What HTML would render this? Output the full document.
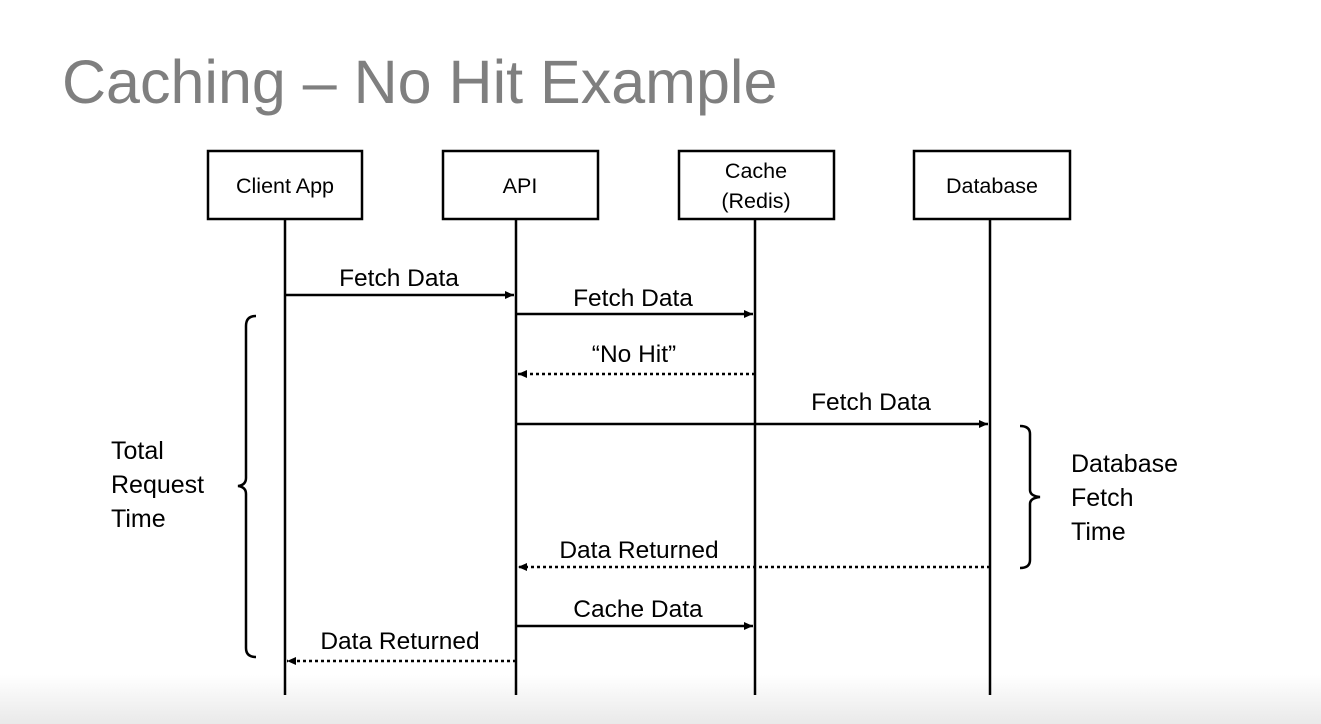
<!DOCTYPE html>
<html><head><style>
html,body{margin:0;padding:0;width:1321px;height:724px;overflow:hidden;background:#fff}
svg{display:block}
text{font-family:"Liberation Sans",sans-serif;fill:#000}
</style></head><body>
<svg width="1321" height="724" viewBox="0 0 1321 724">
<defs>
<linearGradient id="g" x1="0" y1="0" x2="0" y2="1">
<stop offset="0" stop-color="#fff"/><stop offset="1" stop-color="#e9e9e9"/>
</linearGradient>
<marker id="a" markerWidth="10" markerHeight="10" refX="9" refY="5" orient="auto" markerUnits="userSpaceOnUse">
<path d="M0,1 L9,5 L0,9 Z" fill="#000"/>
</marker>
</defs>
<rect x="0" y="675" width="1321" height="49" fill="url(#g)"/>
<text x="62" y="103" font-size="61" style="fill:#7f7f7f">Caching – No Hit Example</text>
<g stroke="#000" stroke-width="2.5" fill="#fff">
<line x1="285" y1="219" x2="285" y2="695"/>
<line x1="516" y1="219" x2="516" y2="695"/>
<line x1="755" y1="219" x2="755" y2="695"/>
<line x1="990" y1="219" x2="990" y2="695"/>
<rect x="208" y="151" width="154" height="68"/>
<rect x="443" y="151" width="155" height="68"/>
<rect x="679" y="151" width="155" height="68"/>
<rect x="914" y="151" width="156" height="68"/>
</g>
<g font-size="21.5" text-anchor="middle">
<text x="285" y="193">Client App</text>
<text x="520" y="193">API</text>
<text x="756" y="178">Cache</text>
<text x="756" y="208">(Redis)</text>
<text x="992" y="193">Database</text>
</g>
<g stroke="#000" stroke-width="2.5" fill="none">
<line x1="285" y1="295" x2="514" y2="295" marker-end="url(#a)"/>
<line x1="516" y1="314" x2="753" y2="314" marker-end="url(#a)"/>
<line x1="755" y1="374" x2="518" y2="374" stroke-dasharray="3,3" marker-end="url(#a)"/>
<line x1="516" y1="424" x2="988" y2="424" marker-end="url(#a)"/>
<line x1="990" y1="567" x2="518" y2="567" stroke-dasharray="3,3" marker-end="url(#a)"/>
<line x1="516" y1="626" x2="753" y2="626" marker-end="url(#a)"/>
<line x1="516" y1="661" x2="287" y2="661" stroke-dasharray="3,3" marker-end="url(#a)"/>
<path d="M256,316 Q246,316 246,326 L246,478 Q246,485 238,486 Q246,487 246,494 L246,648 Q246,657 256,657"/>
<path d="M1020,426 Q1030,426 1030,434 L1030,490 Q1030,496 1040,497 Q1030,498 1030,504 L1030,560 Q1030,568 1020,568"/>
</g>
<g font-size="24.5" text-anchor="middle">
<text x="399" y="286">Fetch Data</text>
<text x="633" y="306">Fetch Data</text>
<text x="634" y="362">“No Hit”</text>
<text x="871" y="410">Fetch Data</text>
<text x="639" y="558">Data Returned</text>
<text x="638" y="617">Cache Data</text>
<text x="400" y="649">Data Returned</text>
</g>
<g font-size="25">
<text x="111" y="459">Total</text>
<text x="111" y="493">Request</text>
<text x="111" y="527">Time</text>
<text x="1071" y="472">Database</text>
<text x="1071" y="506">Fetch</text>
<text x="1071" y="540">Time</text>
</g>
</svg>
</body></html>
